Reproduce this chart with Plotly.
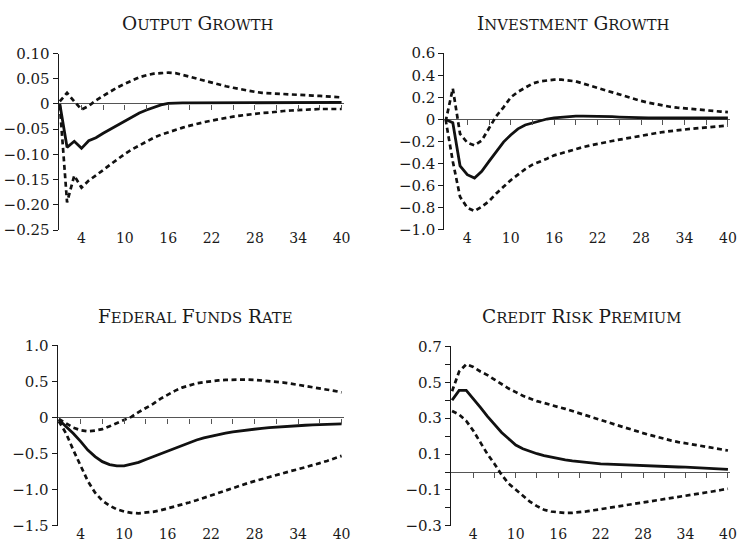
import plotly.graph_objects as go

# Quarters after the shock
quarters = list(range(1, 41))

# Output growth: impulse response and error band
output_irf = [0.0, -0.086, -0.074, -0.088, -0.073, -0.067, -0.058, -0.050, -0.042, -0.033,
              -0.025, -0.018, -0.012, -0.007, -0.002, 0.001, 0.002, 0.002, 0.002, 0.002,
              0.002, 0.002, 0.002, 0.002, 0.002, 0.002, 0.002, 0.002, 0.002, 0.002,
              0.003, 0.003, 0.003, 0.003, 0.003, 0.003, 0.003, 0.003, 0.003, 0.003]
output_hi = [0.005, 0.022, 0.005, -0.011, -0.004, 0.007, 0.016, 0.025, 0.033, 0.040,
             0.047, 0.053, 0.057, 0.060, 0.061, 0.062, 0.061, 0.058, 0.054, 0.050,
             0.046, 0.042, 0.038, 0.035, 0.032, 0.029, 0.026, 0.024, 0.022, 0.021,
             0.020, 0.019, 0.018, 0.0175, 0.017, 0.0165, 0.016, 0.015, 0.014, 0.013]
output_lo = [-0.003, -0.195, -0.142, -0.166, -0.152, -0.142, -0.131, -0.120, -0.109, -0.099,
             -0.090, -0.082, -0.074, -0.067, -0.061, -0.056, -0.051, -0.047, -0.043, -0.039,
             -0.036, -0.033, -0.030, -0.027, -0.025, -0.023, -0.021, -0.019, -0.018, -0.017,
             -0.015, -0.014, -0.013, -0.012, -0.011, -0.011, -0.010, -0.010, -0.010, -0.010]

# Investment growth
invest_irf = [0.0, -0.03, -0.42, -0.50, -0.53, -0.47, -0.38, -0.29, -0.205, -0.14,
              -0.085, -0.05, -0.03, -0.012, 0.004, 0.015, 0.022, 0.027, 0.030, 0.031,
              0.031, 0.030, 0.028, 0.025, 0.022, 0.019, 0.017, 0.015, 0.014, 0.014,
              0.013, 0.013, 0.013, 0.013, 0.013, 0.013, 0.013, 0.013, 0.013, 0.013]
invest_hi = [-0.02, 0.28, -0.13, -0.21, -0.235, -0.19, -0.08, 0.03, 0.11, 0.20,
             0.25, 0.29, 0.325, 0.345, 0.355, 0.36, 0.36, 0.355, 0.345, 0.325,
             0.305, 0.285, 0.265, 0.245, 0.225, 0.205, 0.185, 0.168, 0.152, 0.138,
             0.125, 0.115, 0.107, 0.10, 0.094, 0.088, 0.083, 0.077, 0.071, 0.066]
invest_lo = [0.0, -0.38, -0.70, -0.80, -0.83, -0.79, -0.74, -0.67, -0.61, -0.55,
             -0.50, -0.45, -0.41, -0.385, -0.355, -0.325, -0.305, -0.29, -0.27, -0.25,
             -0.235, -0.22, -0.207, -0.195, -0.183, -0.17, -0.158, -0.147, -0.135, -0.125,
             -0.114, -0.105, -0.098, -0.09, -0.084, -0.078, -0.072, -0.066, -0.06, -0.055]

# Federal funds rate
ffr_irf = [-0.03, -0.12, -0.22, -0.33, -0.45, -0.54, -0.61, -0.65, -0.67, -0.67,
           -0.65, -0.62, -0.58, -0.54, -0.50, -0.46, -0.42, -0.38, -0.34, -0.31,
           -0.28, -0.255, -0.235, -0.215, -0.198, -0.183, -0.17, -0.158, -0.148, -0.138,
           -0.13, -0.123, -0.117, -0.111, -0.106, -0.101, -0.097, -0.093, -0.09, -0.087]
ffr_hi = [-0.02, -0.08, -0.14, -0.175, -0.19, -0.18, -0.16, -0.12, -0.08, -0.035,
          0.01, 0.075, 0.13, 0.19, 0.26, 0.32, 0.37, 0.415, 0.45, 0.475,
          0.49, 0.505, 0.515, 0.522, 0.527, 0.528, 0.527, 0.523, 0.515, 0.505,
          0.495, 0.485, 0.47, 0.455, 0.44, 0.425, 0.41, 0.39, 0.37, 0.35]
ffr_lo = [-0.05, -0.22, -0.45, -0.67, -0.88, -1.04, -1.15, -1.22, -1.27, -1.30,
          -1.32, -1.325, -1.32, -1.305, -1.285, -1.26, -1.235, -1.205, -1.175, -1.145,
          -1.11, -1.075, -1.04, -1.005, -0.97, -0.94, -0.91, -0.88, -0.85, -0.825,
          -0.795, -0.77, -0.74, -0.715, -0.69, -0.66, -0.63, -0.60, -0.565, -0.53]

# Credit risk premium
crp_irf = [0.40, 0.455, 0.455, 0.41, 0.36, 0.31, 0.265, 0.22, 0.185, 0.15,
           0.13, 0.115, 0.102, 0.092, 0.083, 0.075, 0.068, 0.062, 0.057, 0.052,
           0.049, 0.046, 0.044, 0.042, 0.040, 0.038, 0.037, 0.035, 0.034, 0.032,
           0.031, 0.030, 0.028, 0.027, 0.025, 0.023, 0.021, 0.019, 0.017, 0.015]
crp_hi = [0.45, 0.56, 0.60, 0.585, 0.56, 0.54, 0.515, 0.49, 0.465, 0.445,
          0.425, 0.41, 0.395, 0.385, 0.372, 0.362, 0.352, 0.34, 0.33, 0.317,
          0.303, 0.29, 0.278, 0.265, 0.252, 0.24, 0.228, 0.217, 0.206, 0.195,
          0.185, 0.175, 0.167, 0.16, 0.153, 0.146, 0.14, 0.133, 0.126, 0.12]
crp_lo = [0.34, 0.32, 0.285, 0.23, 0.165, 0.10, 0.045, -0.015, -0.065, -0.10,
          -0.135, -0.165, -0.19, -0.21, -0.22, -0.226, -0.228, -0.227, -0.224, -0.219,
          -0.213, -0.207, -0.201, -0.195, -0.189, -0.182, -0.175, -0.168, -0.161, -0.155,
          -0.149, -0.143, -0.137, -0.131, -0.125, -0.119, -0.113, -0.107, -0.100, -0.093]

# Axis ticks
x_label_vals = [4, 10, 16, 22, 28, 34, 40]
x_label_text = ["4", "10", "16", "22", "28", "34", "40"]
x_minor_vals = list(range(4, 41, 3))

out_yvals = [0.10, 0.05, 0, -0.05, -0.10, -0.15, -0.20, -0.25]
out_ytext = ["0.10", "0.05", "0", "−0.05", "−0.10", "−0.15", "−0.20", "−0.25"]
inv_yvals = [0.6, 0.4, 0.2, 0, -0.2, -0.4, -0.6, -0.8, -1.0]
inv_ytext = ["0.6", "0.4", "0.2", "0", "−0.2", "−0.4", "−0.6", "−0.8", "−1.0"]
ffr_yvals = [1.0, 0.5, 0, -0.5, -1.0, -1.5]
ffr_ytext = ["1.0", "0.5", "0", "−0.5", "−1.0", "−1.5"]
crp_yvals = [0.7, 0.6, 0.5, 0.4, 0.3, 0.2, 0.1, 0, -0.1, -0.2, -0.3]
crp_ytext = ["0.7", "", "0.5", "", "0.3", "", "0.1", "", "−0.1", "", "−0.3"]

W, H = 745, 553
FONT = "DejaVu Serif"
INK = "#1a1a1a"
RULE = "#555555"
CAP, SMALL = 18.5, 14.8


def fx(px):
    return px / W


def fy(py):
    return 1 - py / H


def small_caps(title):
    """Render a title in small capitals: first letter of each word full size."""
    words = []
    for w in title.split():
        words.append(w[0].upper() +
                     f"<span style='font-size:{SMALL}px'>{w[1:].upper()}</span>")
    return " ".join(words)


panels = [
    dict(title="Output Growth", irf=output_irf, lo=output_lo, hi=output_hi,
         yr=(-0.25, 0.10), yv=out_yvals, yt=out_ytext,
         box=(59.3, 347, 46, 228.5), tpos=(200, 15)),
    dict(title="Investment Growth", irf=invest_irf, lo=invest_lo, hi=invest_hi,
         yr=(-1.0, 0.6), yv=inv_yvals, yt=inv_ytext,
         box=(448.7, 737, 45.7, 228.3), tpos=(579, 15)),
    dict(title="Federal Funds Rate", irf=ffr_irf, lo=ffr_lo, hi=ffr_hi,
         yr=(-1.5, 1.0), yv=ffr_yvals, yt=ffr_ytext,
         box=(58.3, 347, 347.7, 534.3), tpos=(197, 318)),
    dict(title="Credit Risk Premium", irf=crp_irf, lo=crp_lo, hi=crp_hi,
         yr=(-0.3, 0.7), yv=crp_yvals, yt=crp_ytext,
         box=(455.3, 737, 348.7, 534.3), tpos=(587, 318)),
]

XRANGE = [0.85, 40.3]

fig = go.Figure()
layout = dict(
    width=W, height=H, margin=dict(l=0, r=0, t=0, b=0),
    paper_bgcolor="white", plot_bgcolor="white",
    showlegend=False, font=dict(family=FONT, size=14, color=INK),
    annotations=[],
)

for i, p in enumerate(panels, start=1):
    x0, x1, ytop, ybot = p["box"]
    xd = [fx(x0), fx(x1)]
    yd = [fy(ybot), fy(ytop)]
    ymin, ymax = p["yr"]
    xa, ya, xz = f"x{i}", f"y{i}", i + 4

    for series, dash in ((p["hi"], "5px,3.5px"), (p["lo"], "5px,3.5px"), (p["irf"], "solid")):
        fig.add_trace(go.Scatter(
            x=quarters, y=series, mode="lines", xaxis=xa, yaxis=ya,
            line=dict(color="#111", width=2.8 if dash == "solid" else 2.7, dash=dash),
            hoverinfo="skip"))
    # empty trace so the zero-line tick axis gets its own subplot
    fig.add_trace(go.Scatter(x=[], y=[], xaxis=f"x{xz}", yaxis=ya,
                             mode="lines", hoverinfo="skip"))

    layout[f"xaxis{i}"] = dict(
        domain=xd, anchor=ya, range=XRANGE, showline=False, showgrid=False,
        zeroline=False, ticks="", tickvals=x_label_vals, ticktext=x_label_text,
        ticklabelstandoff=-2,
        tickfont=dict(family=FONT, size=14, color=INK))
    layout[f"yaxis{i}"] = dict(
        domain=yd, anchor=xa, range=[ymin, ymax], showline=True, linecolor=INK,
        linewidth=1.3, showgrid=False, zeroline=True, zerolinecolor=RULE,
        zerolinewidth=1.4, ticks="outside",
        ticklen=5, tickwidth=1.2, tickcolor=INK, tickvals=p["yv"], ticktext=p["yt"],
        tickfont=dict(family=FONT, size=15, color=INK))

    # quarter ticks hanging below the zero line
    zero_pos = yd[0] + (0 - ymin) / (ymax - ymin) * (yd[1] - yd[0])
    layout[f"xaxis{xz}"] = dict(
        overlaying=xa, anchor="free", position=zero_pos, range=XRANGE,
        showline=False, showgrid=False, zeroline=False, ticks="outside",
        ticklen=5, tickwidth=1.2, tickcolor=RULE, tickvals=x_minor_vals,
        showticklabels=False)

    layout["annotations"].append(dict(
        text=small_caps(p["title"]), xref="paper", yref="paper",
        x=fx(p["tpos"][0]), y=fy(p["tpos"][1]), xanchor="center", yanchor="middle",
        showarrow=False, font=dict(family=FONT, size=CAP, color=INK)))

fig.update_layout(**layout)
fig.write_html("out.html")
